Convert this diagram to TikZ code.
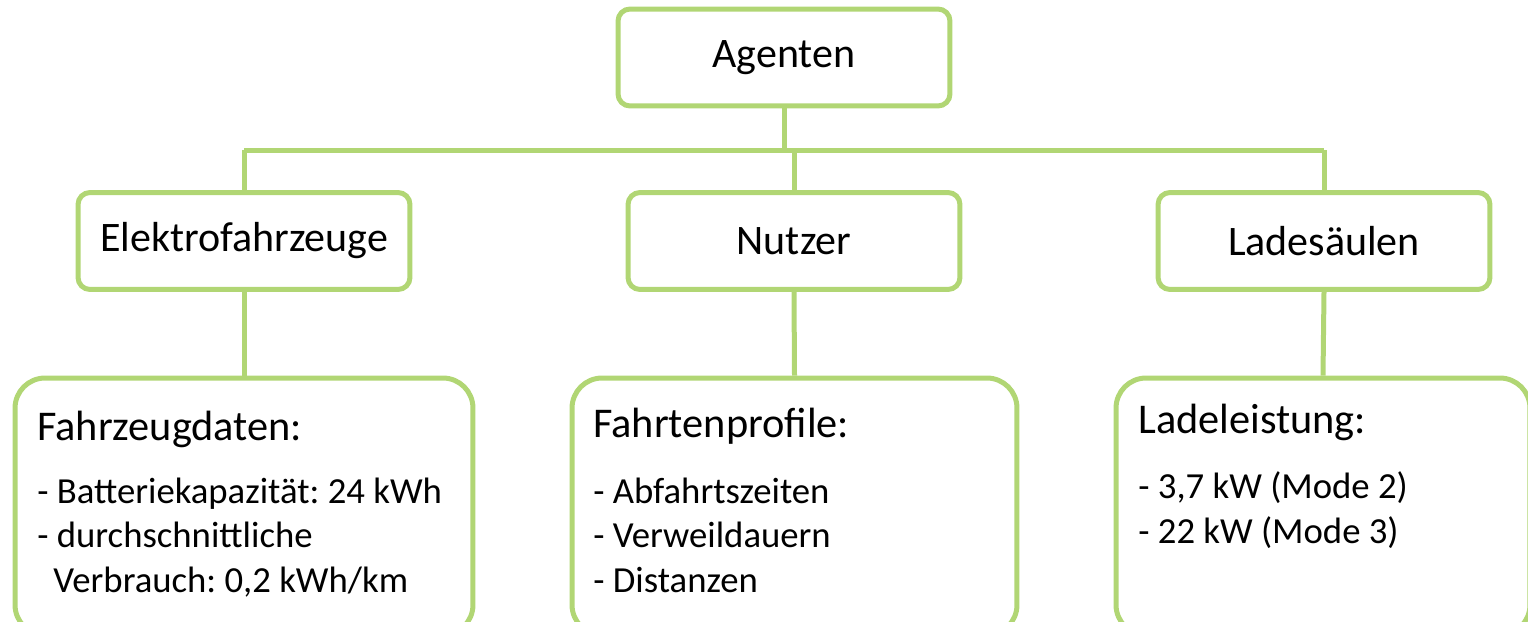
\documentclass[tikz,border=0pt]{standalone}
\usepackage{fontspec}
\setmainfont{Carlito}
\usetikzlibrary{positioning}
\definecolor{agreen}{RGB}{177,214,116}
\frenchspacing

\begin{document}
\begin{tikzpicture}[x=0.02cm, y=-0.02cm,
    head/.style={draw=agreen, line width=0.1cm, rounded corners=0.24cm, inner sep=0pt,
                 minimum width=6.64cm, minimum height=1.94cm, font=\fontsize{23.9}{28}\selectfont},
    detail/.style={draw=agreen, line width=0.1cm, rounded corners=0.6cm, inner sep=0pt,
                   minimum height=5.14cm},
    title/.style={anchor=base west, inner sep=0pt, font=\fontsize{24.1}{28}\selectfont},
    item/.style={anchor=base west, inner sep=0pt, font=\fontsize{20.9}{25}\selectfont},
    link/.style={draw=agreen, line width=0.1cm}]
        \useasboundingbox (0,0) rectangle (1528,622);
        \clip (0,0) rectangle (1528,622);

        % top level
        \node[head] (agenten) at (784,57.5) {Agenten};
        \node[head] (elektro) at (244,241) {Elektrofahrzeuge};
        \node[head] (nutzer) at (794,241) {Nutzer};
        \node[head] (lade) at (1324,241) {Ladesäulen};

        \coordinate (busL) at (244,150);
        \coordinate (busR) at (1324,150);

        \draw[link] (agenten.south) -- (agenten.south |- busL);
        \draw[link] (busL) -- (busR);
        \draw[link] (busL) -- (elektro.north);
        \draw[link] (nutzer.north) -- (nutzer.north |- busL);
        \draw[link] (busR) -- (lade.north);

        % details
        \node[detail, minimum width=9.16cm] (fzd) at (244,506.5) {};
        \node[detail, minimum width=8.9cm] (fahrt) at (794.5,506.5) {};
        \node[detail, minimum width=8.28cm] (leist) at (1323,506.5) {};

        \draw[link] (elektro.south) -- (fzd.north);
        \draw[link] (nutzer.south) -- (fahrt.north);
        \draw[link] (lade.south) -- (leist.north);

        \node[title] (fzdT) at (37,440) {Fahrzeugdaten:};
        \node[item] (fzd1) at (37,503) {- Batteriekapazität: 24 kWh};
        \node[item] (fzd2) at (37,547) {- durchschnittliche};
        \node[item] (fzd3) at (53,592) {Verbrauch: 0,2 kWh/km};

        \node[title] (fahrtT) at (593,437) {Fahrtenprofile:};
        \node[item] (fahrt1) at (593,503) {- Abfahrtszeiten};
        \node[item] (fahrt2) at (593,547) {- Verweildauern};
        \node[item] (fahrt3) at (593,592) {- Distanzen};

        \node[title] (leistT) at (1138,433) {Ladeleistung:};
        \node[item] (leist1) at (1138,498) {- 3,7 kW (Mode 2)};
        \node[item] (leist2) at (1138,543) {- 22 kW (Mode 3)};
\end{tikzpicture}
\end{document}
